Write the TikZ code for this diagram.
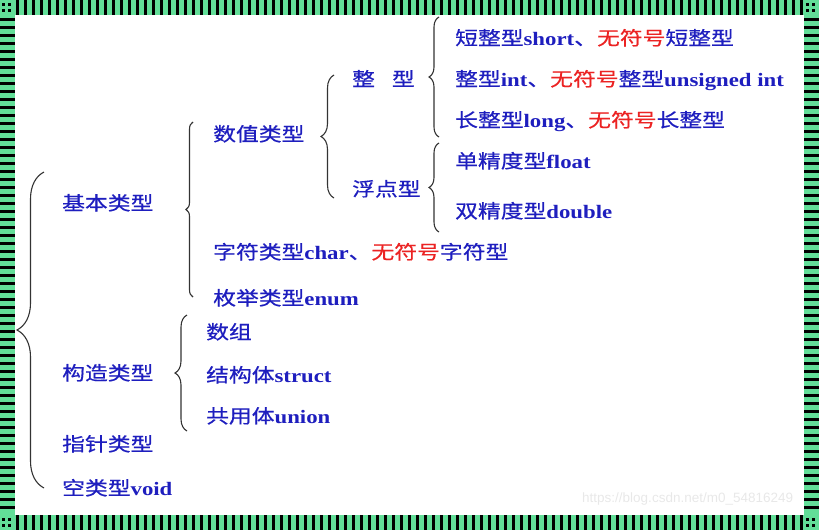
\documentclass[tikz,border=0pt]{standalone}
\usepackage{fontspec}
\setmainfont{Liberation Serif}[FakeStretch=1.2]
\setsansfont{Liberation Sans}
\newfontfamily\cjk{Noto Sans CJK SC}[FakeStretch=1.2, FakeBold=0.6]
\usetikzlibrary{decorations.pathreplacing}
\definecolor{typeblue}{RGB}{30,30,190}
\definecolor{typered}{RGB}{235,35,35}
\definecolor{bandgreen}{RGB}{98,222,152}
\newcommand{\entxt}[1]{{\rmfamily\bfseries #1}}
\newcommand{\redtxt}[1]{\textcolor{typered}{#1}}
\tikzset{
  typename/.style={anchor=base west, inner sep=0pt, text=typeblue, font=\cjk\fontsize{19}{19}\selectfont},
  typebrace/.style={decorate, decoration={brace, amplitude=#1}, line width=1.1pt, draw=black!80},
}

\begin{document}
\begin{tikzpicture}[x=1pt, y=-1pt]
    \useasboundingbox (0,0) rectangle (819,530);
    % striped frame
    \fill[bandgreen] (0,0) rectangle (819,15);
    \fill[bandgreen] (0,515) rectangle (819,530);
    \fill[bandgreen] (0,0) rectangle (15,530);
    \fill[bandgreen] (804,0) rectangle (819,530);
    \foreach \x in {16,24,...,800}
        {\fill (\x,0) rectangle +(3,15); \fill (\x,515) rectangle +(3,15);}
    \foreach \y in {18,26,...,510}
        {\fill (0,\y) rectangle +(15,3); \fill (804,\y) rectangle +(15,3);}
    \foreach \cx/\cy in {0/0, 804/0, 0/515, 804/515}
        \foreach \dx/\dy in {2/3, 8/3, 2/9, 8/9}
            \fill (\cx+\dx,\cy+\dy) rectangle +(3,3);

    \node[typename] (jiben) at (62,210) {基本类型};
    \node[typename] (gouzao) at (62,380) {构造类型};
    \node[typename] (zhizhen) at (62,451) {指针类型};
    \node[typename] (kong) at (62,495) {空类型\entxt{void}};
    \node[typename] (shuzhi) at (213,141) {数值类型};
    \node[typename] (zifu) at (213,259) {字符类型\entxt{char}、\redtxt{无符号}字符型};
    \node[typename] (meiju) at (213,305) {枚举类型\entxt{enum}};
    \node[typename] (shuzu) at (206,339) {数组};
    \node[typename] (jiegou) at (206,382) {结构体\entxt{struct}};
    \node[typename] (gongyong) at (206,423) {共用体\entxt{union}};
    \node[typename] (zhengxing) at (352,86) {整\hspace{17pt}型};
    \node[typename] (fudian) at (352,196) {浮点型};
    \node[typename] (duan) at (455,45) {短整型\entxt{short}、\redtxt{无符号}短整型};
    \node[typename] (zheng) at (455,86) {整型\entxt{int}、\redtxt{无符号}整型\entxt{unsigned int}};
    \node[typename] (chang) at (455,127) {长整型\entxt{long}、\redtxt{无符号}长整型};
    \node[typename] (dan) at (455,168) {单精度型\entxt{float}};
    \node[typename] (shuang) at (455,218) {双精度型\entxt{double}};
    \node[anchor=base west, inner sep=0pt, text=black!9, font=\sffamily\fontsize{13.5}{13.5}\selectfont] (mark) at (582,502) {https://blog.csdn.net/m0\_54816249};

    \coordinate (allTop) at (44,172);
    \coordinate (allBot) at (44,488);
    \coordinate (jibenTop) at (193,122);
    \coordinate (jibenBot) at (193,297);
    \coordinate (gouzaoTop) at (187,315);
    \coordinate (gouzaoBot) at (187,431);
    \coordinate (shuzhiTop) at (334,75);
    \coordinate (shuzhiBot) at (334,198);
    \coordinate (zhengTop) at (439,17);
    \coordinate (zhengBot) at (439,137);
    \coordinate (fudianTop) at (439,143);
    \coordinate (fudianBot) at (439,232);
    \draw[typebrace=27pt] (allBot) -- (allTop);
    \draw[typebrace=7pt] (jibenBot) -- (jibenTop);
    \draw[typebrace=12pt] (gouzaoBot) -- (gouzaoTop);
    \draw[typebrace=13pt] (shuzhiBot) -- (shuzhiTop);
    \draw[typebrace=10pt] (zhengBot) -- (zhengTop);
    \draw[typebrace=10pt] (fudianBot) -- (fudianTop);
\end{tikzpicture}
\end{document}
